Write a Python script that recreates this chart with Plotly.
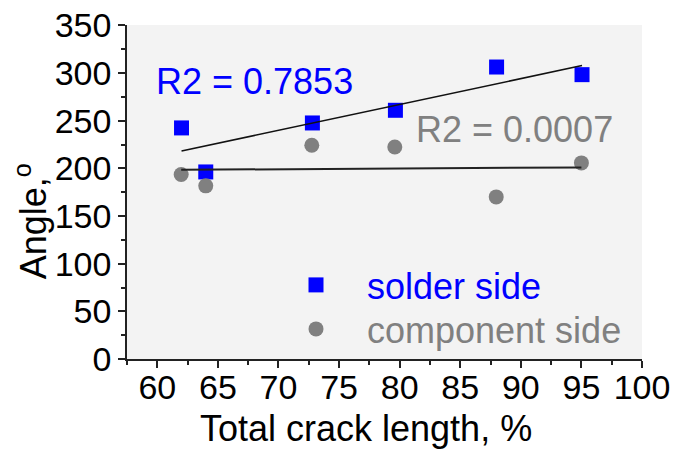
import numpy as np
import plotly.graph_objects as go

# ---- data ----
solder_x = [62.0, 64.0, 72.8, 79.65, 88.0, 95.05]
solder_y = [242.5, 196.3, 247.7, 261.0, 306.4, 298.4]
comp_x = [61.97, 64.0, 72.75, 79.6, 87.97, 95.0]
comp_y = [193.6, 181.7, 224.3, 222.5, 170.1, 205.8]
r2_solder_label = "R2 = 0.7853"
r2_comp_label = "R2 = 0.0007"
x_ticks = [60, 65, 70, 75, 80, 85, 90, 95, 100]
y_ticks = [0, 50, 100, 150, 200, 250, 300, 350]

FONT = "Liberation Sans, Arial, sans-serif"
BLUE = "#0000ff"
GRAY = "#808080"

# page body has an 8px default margin; compensate so the plot lands at the
# reference position (plot area: x 127..642, y 25..359)
OFF = 8
PL, PR, PT, PB = 127, 642, 25, 359
PW, PH = PR - PL, PB - PT


def fit_line(xs, ys):
    k, b = np.polyfit(xs, ys, 1)
    xx = np.array([min(xs), max(xs)])
    return xx, k * xx + b


sx, sy = fit_line(solder_x, solder_y)
cx, cy = fit_line(comp_x, comp_y)

fig = go.Figure()
fig.add_trace(go.Scatter(x=solder_x, y=solder_y, mode="markers",
                         name="solder side", legend="legend",
                         marker=dict(symbol="square", size=15, color=BLUE)))
fig.add_trace(go.Scatter(x=comp_x, y=comp_y, mode="markers",
                         name="component side", legend="legend2",
                         marker=dict(symbol="circle", size=15, color=GRAY)))
fig.add_trace(go.Scatter(x=sx, y=sy, mode="lines", showlegend=False,
                         line=dict(color="#111111", width=1.5)))
fig.add_trace(go.Scatter(x=cx, y=cy, mode="lines", showlegend=False,
                         line=dict(color="#222222", width=2)))

fig.add_annotation(x=59.7, y=291, xref="x", yref="y", text=r2_solder_label,
                   showarrow=False, xanchor="left", yanchor="middle",
                   font=dict(family=FONT, size=36, color=BLUE))
fig.add_annotation(x=81.15, y=241, xref="x", yref="y", text=r2_comp_label,
                   showarrow=False, xanchor="left", yanchor="middle",
                   font=dict(family=FONT, size=36, color=GRAY))

# axis titles
fig.add_annotation(x=-0.186, y=0.413, xref="paper", yref="paper",
                   text="Angle,<sup>o</sup>", textangle=-90, showarrow=False,
                   xanchor="center", yanchor="middle",
                   font=dict(family=FONT, size=36, color="black"))
fig.add_annotation(x=(366 - PL) / PW, y=-0.2066, xref="paper", yref="paper",
                   text="Total crack length, %", showarrow=False,
                   xanchor="center", yanchor="middle",
                   font=dict(family=FONT, size=36, color="black"))

axis_common = dict(showgrid=False, zeroline=False, showline=True,
                   linecolor="#222222", linewidth=1.5, ticks="outside",
                   ticklen=7, tickwidth=1.5, tickcolor="#222222",
                   automargin=False, ticklabeloverflow="allow",
                   tickfont=dict(family=FONT, size=34, color="black"))

fig.update_xaxes(range=[57.5, 100], tickvals=x_ticks, ticklabelstandoff=-10,
                 minor=dict(dtick=2.5, tick0=57.5, ticks="outside", ticklen=4,
                            tickwidth=1.5, tickcolor="#222222"),
                 **axis_common)
fig.update_yaxes(range=[0, 350.5], tickvals=y_ticks,
                 minor=dict(dtick=25, tick0=0, ticks="outside", ticklen=4,
                            tickwidth=1.5, tickcolor="#222222"),
                 **axis_common)

leg_common = dict(xanchor="left", yanchor="middle", bgcolor="rgba(0,0,0,0)",
                  itemwidth=92)
fig.update_layout(
    width=688, height=454,
    margin=dict(l=PL - OFF, r=688 - (PR - OFF), t=PT - OFF,
                b=454 - (PB - OFF), autoexpand=False),
    paper_bgcolor="white", plot_bgcolor="#f3f3f3",
    font=dict(family=FONT, size=32, color="black"),
    legend=dict(x=(265 - PL) / PW, y=(PB - 285) / PH,
                font=dict(family=FONT, size=36, color=BLUE), **leg_common),
    legend2=dict(x=(265 - PL) / PW, y=(PB - 329) / PH,
                 font=dict(family=FONT, size=36, color=GRAY), **leg_common),
)

fig.write_html("out.html")
